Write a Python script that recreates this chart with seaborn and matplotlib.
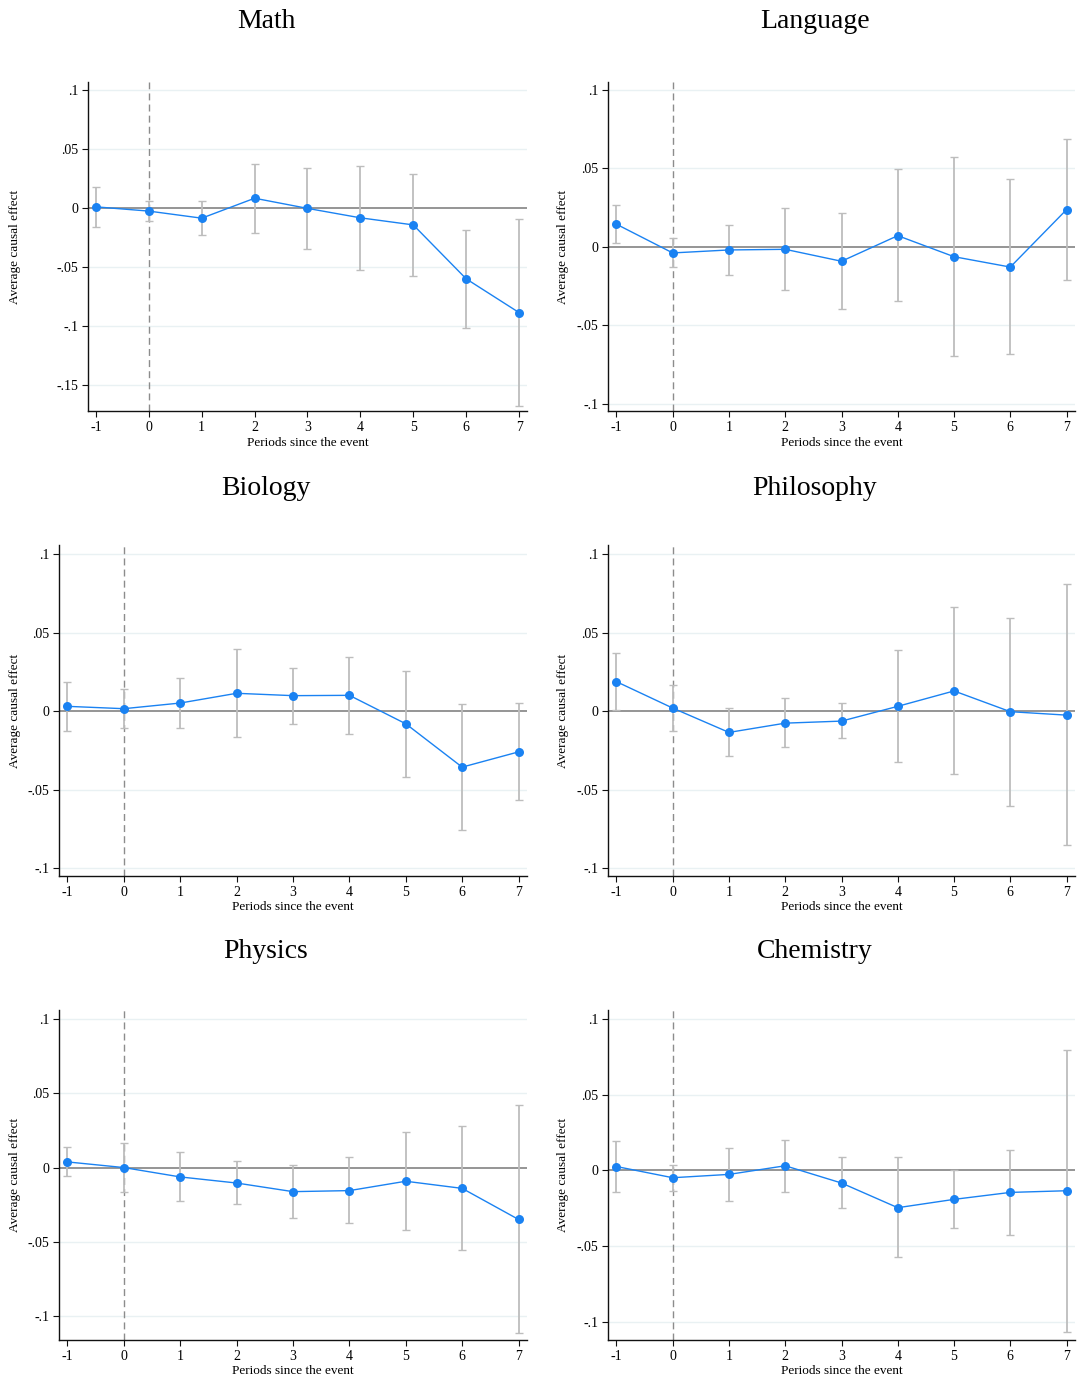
import numpy as np
import pandas as pd
import matplotlib
matplotlib.use("Agg")
import matplotlib.pyplot as plt
from matplotlib.ticker import FuncFormatter
import seaborn as sns

periods = [-1, 0, 1, 2, 3, 4, 5, 6, 7]
subjects = ["Math", "Language", "Biology", "Philosophy", "Physics", "Chemistry"]

math_est = [0.001, -0.0026, -0.0086, 0.0083, -0.0003, -0.0083, -0.0143, -0.060, -0.0886]
math_hi = [0.018, 0.0057, 0.0057, 0.0377, 0.0343, 0.036, 0.0289, -0.0183, -0.0094]
math_lo = [-0.0157, -0.0106, -0.0231, -0.0211, -0.0349, -0.0529, -0.0577, -0.1017, -0.1677]

lang_est = [0.0145, -0.0038, -0.0019, -0.0015, -0.0091, 0.0072, -0.0062, -0.0128, 0.0238]
lang_hi = [0.0266, 0.0055, 0.0143, 0.0249, 0.0215, 0.0494, 0.0574, 0.043, 0.0691]
lang_lo = [0.0026, -0.013, -0.0177, -0.0274, -0.0394, -0.0347, -0.0694, -0.0683, -0.0213]

bio_est = [0.003, 0.0015, 0.0051, 0.0113, 0.0098, 0.010, -0.0081, -0.0357, -0.026]
bio_hi = [0.0185, 0.014, 0.0213, 0.0396, 0.0277, 0.0347, 0.0257, 0.0045, 0.0051]
bio_lo = [-0.0126, -0.0106, -0.0109, -0.0168, -0.0081, -0.0145, -0.0419, -0.0757, -0.0568]

phil_est = [0.0187, 0.0019, -0.0136, -0.0077, -0.0064, 0.003, 0.0128, -0.0004, -0.0026]
phil_hi = [0.0372, 0.0168, 0.0017, 0.0081, 0.0049, 0.0387, 0.066, 0.0594, 0.0806]
phil_lo = [0.0004, -0.013, -0.0285, -0.0232, -0.0174, -0.0326, -0.0402, -0.0602, -0.0855]

phys_est = [0.0038, 0.0, -0.0063, -0.0104, -0.0162, -0.0155, -0.0092, -0.014, -0.0349]
phys_hi = [0.0137, 0.0164, 0.0104, 0.0045, 0.0014, 0.0072, 0.0239, 0.0277, 0.0421]
phys_lo = [-0.0059, -0.0162, -0.0227, -0.0248, -0.0338, -0.0376, -0.0421, -0.0554, -0.1115]

chem_est = [0.0026, -0.0048, -0.0026, 0.0031, -0.0083, -0.0246, -0.0191, -0.0145, -0.0134]
chem_hi = [0.0197, 0.0039, 0.0149, 0.0202, 0.0086, 0.0086, 0.0, 0.0132, 0.0796]
chem_lo = [-0.0145, -0.0134, -0.0202, -0.0143, -0.025, -0.0572, -0.0382, -0.0425, -0.1064]

y_ticks = {
    "Math": [0.1, 0.05, 0, -0.05, -0.1, -0.15],
    "Language": [0.1, 0.05, 0, -0.05, -0.1],
    "Biology": [0.1, 0.05, 0, -0.05, -0.1],
    "Philosophy": [0.1, 0.05, 0, -0.05, -0.1],
    "Physics": [0.1, 0.05, 0, -0.05, -0.1],
    "Chemistry": [0.1, 0.05, 0, -0.05, -0.1],
}

series = {
    "Math": (math_est, math_lo, math_hi),
    "Language": (lang_est, lang_lo, lang_hi),
    "Biology": (bio_est, bio_lo, bio_hi),
    "Philosophy": (phil_est, phil_lo, phil_hi),
    "Physics": (phys_est, phys_lo, phys_hi),
    "Chemistry": (chem_est, chem_lo, chem_hi),
}

sns.set_theme(style="white")
plt.rcParams["font.family"] = ["Liberation Serif", "DejaVu Serif"]
plt.rcParams["text.color"] = "black"
plt.rcParams["axes.labelcolor"] = "black"
plt.rcParams["xtick.color"] = "black"
plt.rcParams["ytick.color"] = "black"

W, H = 1078, 1379
fig = plt.figure(figsize=(W / 100, H / 100), dpi=100)

# layout in pixels: (left, top, right, bottom), ylim, title center x, title y
layout = {
    "Math": ((88, 82, 527, 411), (-0.172, 0.1068), 266, 22),
    "Language": ((608, 82, 1075, 411), (-0.1045, 0.1051), 815, 22),
    "Biology": ((59, 545, 527, 876), (-0.105, 0.1057), 266, 488),
    "Philosophy": ((608, 545, 1075, 876), (-0.105, 0.1057), 815, 488),
    "Physics": ((59, 1010, 527, 1340), (-0.116, 0.106), 266, 952),
    "Chemistry": ((608, 1010, 1075, 1340), (-0.112, 0.106), 815, 952),
}

blue = "#1a82f2"
ci_col = "#bdbdbd"

def fmt(v, pos):
    if abs(v) < 1e-12:
        return "0"
    s = ("%g" % v)
    s = s.replace("0.", ".")
    return s

for name in subjects:
    (l, t, r, b), ylim, tx, ty = layout[name]
    ax = fig.add_axes([l / W, 1 - b / H, (r - l) / W, (b - t) / H])
    est, lo, hi = series[name]
    df = pd.DataFrame({"period": periods, "effect": est, "lo": lo, "hi": hi})

    ax.set_ylim(*ylim)
    ax.set_xlim(-1.15, 7.15)
    ax.set_yticks(y_ticks[name])
    ax.yaxis.set_major_formatter(FuncFormatter(fmt))
    ax.set_xticks(periods)
    ax.set_xticklabels([str(p) for p in periods])

    for yv in y_ticks[name]:
        if yv != 0:
            ax.axhline(yv, color="#e9f1f3", lw=1.0, zorder=0)
    ax.axhline(0, color="#8c8c8c", lw=1.3, zorder=1)
    ax.axvline(0, color="#8c8c8c", lw=1.0, ls=(0, (5, 3)), zorder=1)

    ax.errorbar(df["period"], df["effect"],
                yerr=[df["effect"] - df["lo"], df["hi"] - df["effect"]],
                fmt="none", ecolor=ci_col, elinewidth=1.3, capsize=3, capthick=1.0, zorder=2)
    sns.lineplot(data=df, x="period", y="effect", ax=ax, color=blue, lw=1.0,
                 marker="o", markersize=6.5, markeredgewidth=0, zorder=3)

    for s in ["top", "right"]:
        ax.spines[s].set_visible(False)
    for s in ["left", "bottom"]:
        ax.spines[s].set_color("#111111")
        ax.spines[s].set_linewidth(1.0)

    ax.tick_params(axis="both", which="major", direction="out", length=4, width=0.8,
                   color="#111111", labelsize=10, pad=3, left=True, bottom=True)
    ax.set_xlabel("Periods since the event", fontsize=9.5, labelpad=2)
    ax.set_ylabel("Average causal effect", fontsize=9.5)
    ax.yaxis.label.set_va("center")
    xpix = 15 if l < 300 else 563
    ax.yaxis.set_label_coords((xpix - l) / (r - l), 0.5)

    fig.text(tx / W, 1 - ty / H, name, ha="center", va="center", fontsize=20)

fig.savefig("out.png", dpi=100, facecolor="white")
